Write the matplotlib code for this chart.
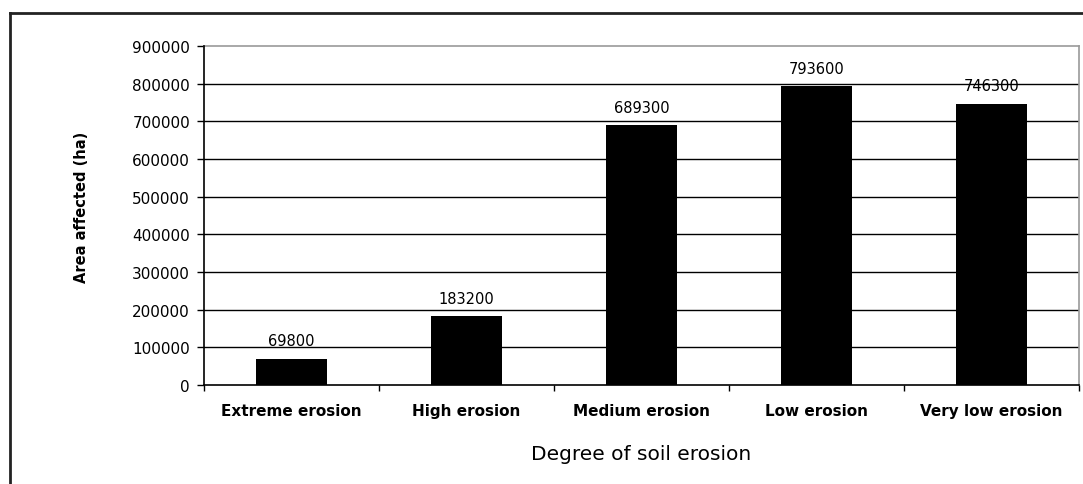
import numpy as np
import matplotlib.pyplot as plt
from matplotlib.lines import Line2D
from matplotlib.ticker import FixedLocator

plt.rcParams['font.family'] = ['DejaVu Sans']

categories = ["Extreme erosion", "High erosion", "Medium erosion", "Low erosion", "Very low erosion"]
area_ha = [69800, 183200, 689300, 793600, 746300]
yticks = [0, 100000, 200000, 300000, 400000, 500000, 600000, 700000, 800000, 900000]

fig = plt.figure(figsize=(10.83, 4.85), dpi=100)
ax = fig.add_axes([204 / 1083, 1 - 386 / 485, 875 / 1083, 339 / 485])

x = np.arange(len(categories))
ax.bar(x, area_ha, width=0.41, color="black", zorder=3)

# value labels above each bar
for xi, val in zip(x, area_ha):
    ax.annotate(str(val), (xi, val), xytext=(0, 7.5), textcoords="offset points",
                ha="center", va="bottom", fontsize=10.5, zorder=1)

ax.set_xlim(-0.5, len(categories) - 0.5)
ax.set_ylim(0, 900000)
ax.set_yticks(yticks)
ax.set_yticklabels([str(v) for v in yticks], fontsize=11)
ax.tick_params(axis="y", direction="out", length=5, width=1, pad=5)

# gridlines, the top one is covered by the grey frame
for v in yticks[1:-1]:
    ax.axhline(v, color="black", lw=1, zorder=2)

ax.set_xticks(x)
ax.set_xticklabels(categories, fontsize=11, fontweight="bold")
ax.tick_params(axis="x", which="major", length=0, pad=13)
ax.xaxis.set_minor_locator(FixedLocator(np.arange(-0.5, len(categories), 1.0)))
ax.tick_params(axis="x", which="minor", direction="out", length=4, width=1)

for side in ("top", "right"):
    ax.spines[side].set_color("#999999")
    ax.spines[side].set_linewidth(1.2)
for side in ("left", "bottom"):
    ax.spines[side].set_color("black")
    ax.spines[side].set_linewidth(1.2)
    ax.spines[side].set_zorder(4)

fig.text(82 / 1083, 1 - 207 / 485, "Area affected (ha)", rotation=90, ha="center", va="center",
         fontsize=10.5, fontweight="bold")
fig.text(641 / 1083, 1 - 455 / 485, "Degree of soil erosion", ha="center", va="center", fontsize=14.5)

# outer chart border (left and top edges)
fig.add_artist(Line2D([10 / 1083, 10 / 1083], [0, 1 - 14 / 485], color="#222222", lw=2))
fig.add_artist(Line2D([10 / 1083, 1], [1 - 14 / 485, 1 - 14 / 485], color="#222222", lw=2))

fig.savefig("out.png", dpi=100)
